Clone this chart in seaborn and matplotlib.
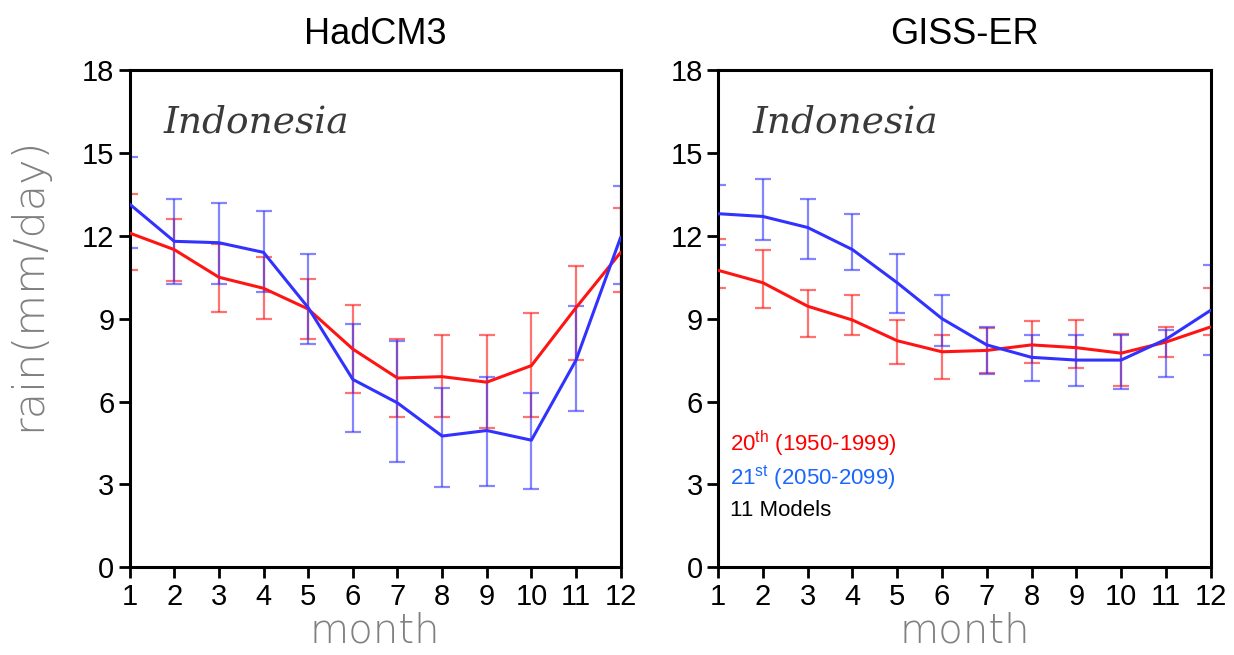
import matplotlib
matplotlib.use("Agg")
import matplotlib.pyplot as plt
import seaborn as sns
import pandas as pd

months = list(range(1, 13))

# HadCM3, 20th century (red)
had_20_mean = [12.1, 11.5, 10.5, 10.1, 9.35, 7.9, 6.85, 6.9, 6.7, 7.3, 9.4, 11.4]
had_20_hi = [13.5, 12.6, 11.7, 11.25, 10.45, 9.5, 8.25, 8.4, 8.4, 9.2, 10.9, 13.0]
had_20_lo = [10.75, 10.35, 9.25, 9.0, 8.25, 6.3, 5.45, 5.45, 5.05, 5.45, 7.5, 9.95]

# HadCM3, 21st century (blue)
had_21_mean = [13.15, 11.8, 11.75, 11.4, 9.4, 6.8, 5.95, 4.75, 4.95, 4.6, 7.5, 11.95]
had_21_hi = [14.85, 13.35, 13.2, 12.9, 11.35, 8.8, 8.2, 6.5, 6.9, 6.3, 9.45, 13.8]
had_21_lo = [11.55, 10.25, 10.25, 9.95, 8.1, 4.9, 3.8, 2.9, 2.95, 2.85, 5.65, 10.25]

# GISS-ER, 20th century (red)
giss_20_mean = [10.75, 10.3, 9.45, 8.95, 8.2, 7.8, 7.85, 8.05, 7.95, 7.75, 8.15, 8.7]
giss_20_hi = [11.9, 11.5, 10.05, 9.85, 8.95, 8.4, 8.65, 8.9, 8.95, 8.45, 8.7, 10.1]
giss_20_lo = [10.1, 9.4, 8.35, 8.4, 7.35, 6.8, 7.05, 7.4, 7.2, 6.55, 7.6, 8.4]

# GISS-ER, 21st century (blue)
giss_21_mean = [12.8, 12.7, 12.3, 11.5, 10.3, 9.0, 8.05, 7.6, 7.5, 7.5, 8.25, 9.3]
giss_21_hi = [13.85, 14.05, 13.35, 12.8, 11.35, 9.85, 8.7, 8.4, 8.4, 8.4, 8.6, 10.95]
giss_21_lo = [11.65, 11.85, 11.15, 10.75, 9.2, 8.0, 7.0, 6.75, 6.55, 6.45, 6.9, 7.7]

y_ticks = [0, 3, 6, 9, 12, 15, 18]

RED = "#ff1414"
BLUE = "#3232ff"

sns.set_theme(style="ticks")
plt.rcParams["font.family"] = ["Liberation Sans", "DejaVu Sans"]
plt.rcParams["mathtext.fontset"] = "custom"
plt.rcParams["mathtext.rm"] = "Liberation Sans"


def draw_panel(ax, title, m20, lo20, hi20, m21, lo21, hi21):
    for mean, lo, hi, color in [(m20, lo20, hi20, RED), (m21, lo21, hi21, BLUE)]:
        err = [[m - l for m, l in zip(mean, lo)], [h - m for m, h in zip(mean, hi)]]
        ax.errorbar(months, mean, yerr=err, fmt="none", ecolor=color,
                    elinewidth=1.6, capsize=5.5, capthick=1.6, alpha=0.6, zorder=2)
    df = pd.DataFrame({"month": months + months,
                       "rain": m20 + m21,
                       "period": ["20th"] * 12 + ["21st"] * 12})
    sns.lineplot(ax=ax, data=df, x="month", y="rain", hue="period",
                 palette=[RED, BLUE], linewidth=2.2, legend=False, zorder=3)

    ax.set_xlim(1, 12)
    ax.set_ylim(0, 18)
    ax.set_xticks(months)
    ax.set_yticks(y_ticks)
    ax.set_xlabel("month", fontsize=29, color="#808080", family="DejaVu Sans",
                  fontweight="light", labelpad=1)
    ax.set_ylabel("")
    ax.set_title(title, fontsize=26, pad=19, color="black")
    ax.tick_params(axis="both", labelsize=21, length=8, width=2, pad=3,
                   direction="out", colors="black")
    for side in ["top", "right", "left", "bottom"]:
        ax.spines[side].set_visible(True)
        ax.spines[side].set_linewidth(2.2)
        ax.spines[side].set_color("black")
    ax.text(0.07, 0.895, "Indonesia", transform=ax.transAxes, fontsize=27,
            family="DejaVu Serif", style="italic", color="#3a3a3a", va="center")


fig = plt.figure(figsize=(12.34, 6.55), dpi=100)
ax_had = fig.add_axes([0.105, 0.134, 0.398, 0.759])
ax_giss = fig.add_axes([0.582, 0.134, 0.399, 0.759])

draw_panel(ax_had, "HadCM3", had_20_mean, had_20_lo, had_20_hi,
           had_21_mean, had_21_lo, had_21_hi)
draw_panel(ax_giss, "GISS-ER", giss_20_mean, giss_20_lo, giss_20_hi,
           giss_21_mean, giss_21_lo, giss_21_hi)

ax_had.set_ylabel("rain(mm/day)", fontsize=31, color="#808080", family="DejaVu Sans",
                  fontweight="light")
ax_had.yaxis.set_label_coords(-0.165, 0.57)

# legend text in the GISS-ER panel
ax_giss.text(0.024, 0.249, r"20$^{\rm th}$ (1950-1999)", transform=ax_giss.transAxes,
             fontsize=16, color="#ff0000", va="center")
ax_giss.text(0.024, 0.181, r"21$^{\rm st}$ (2050-2099)", transform=ax_giss.transAxes,
             fontsize=16, color="#1a66ff", va="center")
ax_giss.text(0.024, 0.115, "11 Models", transform=ax_giss.transAxes,
             fontsize=16, color="black", va="center")

fig.savefig("out.png", dpi=100, facecolor="white")
